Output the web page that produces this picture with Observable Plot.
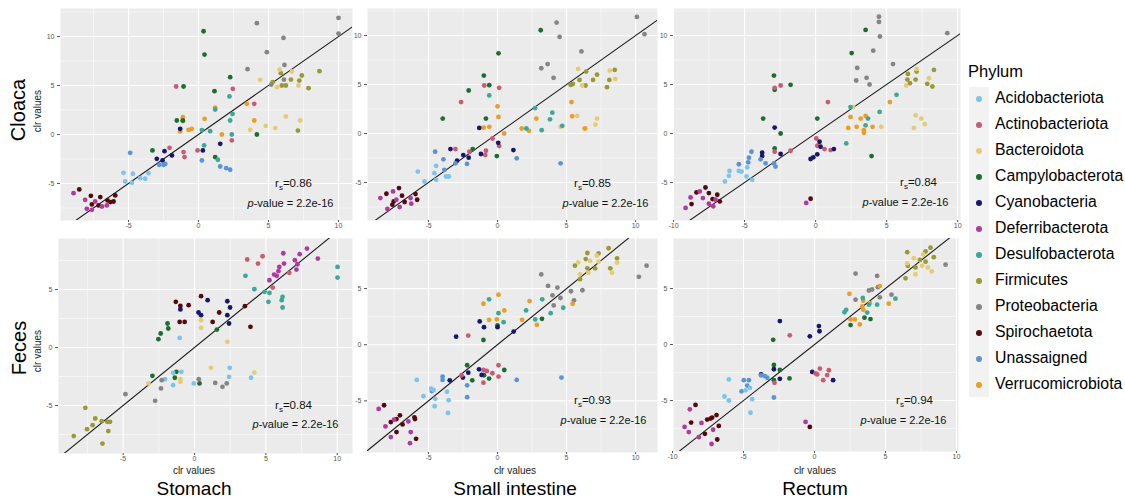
<!DOCTYPE html>
<html><head><meta charset="utf-8">
<script src="https://cdn.jsdelivr.net/npm/d3@7"></script>
<script src="https://cdn.jsdelivr.net/npm/@observablehq/plot@0.6"></script>
<style>
html,body{margin:0;padding:0;background:#fff;}
#root{position:relative;width:1125px;height:501px;overflow:hidden;font-family:"Liberation Sans",Arial,sans-serif;}
.lab{position:absolute;white-space:nowrap;transform:translate(-50%,-50%);color:#000;line-height:1.05;}
.vert{transform:translate(-50%,-50%) rotate(-90deg);}
.panel{position:absolute;}
</style></head><body><div id="root"></div>
<script>
const phyla = ["Acidobacteriota","Actinobacteriota","Bacteroidota","Campylobacterota","Cyanobacteria","Deferribacterota","Desulfobacterota","Firmicutes","Proteobacteria","Spirochaetota","Unassaigned","Verrucomicrobiota"];
const phylumColors = ["#7cc4ec","#cc5a72","#e5cc73","#1a6e2e","#17176e","#b03a9d","#3ba898","#9a9a33","#858585","#520a0f","#5a94d6","#eb9e23"];
const rowNames = ["Cloaca","Feces"];
const colNames = ["Stomach","Small intestine","Rectum"];
const axisTitle = "clr values";
const xTicks4 = [-5,0,5,10];
const xTicks5 = [-10,-5,0,5,10];
const yTicksTop = [-5,0,5,10];
const yTicksBottom = [-5,0,5];
const rsValues = ["0.86","0.85","0.84","0.84","0.93","0.94"];
const pValueText = "2.2e-16";
const fitSlope = [1,1,1,1,1,1];
const fitIntercept = [0,0,0,0,0,0];

// groups: [phylum index, [[x, y], ...]]
const cloacaStomach = [
 [8,[[10.0,11.9],[10.0,10.3],[4.17,11.36],[6.07,9.86],[4.88,8.4],[6.14,7.1],[3.5,6.67],[6.1,5.6],[5.2,5.1]]],
 [7,[[8.64,6.46],[7.38,6.02],[7.2,5.5],[6.6,5.6],[5.88,6.26],[5.95,5.0],[6.24,5.0],[7.86,4.73],[7.1,0.4],[5.3,5.35]]],
 [2,[[5.79,6.63],[6.67,6.43],[4.4,5.58],[5.6,4.83],[7.14,5.0],[6.24,1.84],[7.26,1.43],[4.8,0.88],[5.48,0.65],[3.69,0.48]]],
 [11,[[3.45,3.13],[3.98,1.43],[1.67,0.0],[1.19,2.75],[0.43,1.6],[-1.12,1.77],[-1.12,1.36],[-1.31,0.31],[-0.71,0.48],[-0.48,0.58]]],
 [3,[[0.36,10.54],[0.43,8.16],[2.26,5.85],[-1.07,4.9],[1.14,4.42],[-1.55,1.43],[-1.12,1.43],[-3.29,-1.63],[1.19,-2.31],[4.17,0.0]]],
 [1,[[-1.6,4.9],[2.45,4.66],[3.98,3.13],[-2.07,-1.36],[-1.07,-1.8],[-1.0,-2.31],[-0.07,-1.63],[2.38,-0.61]]],
 [6,[[2.21,3.88],[2.43,2.1],[2.26,1.43],[2.38,0.0],[0.83,0.34],[0.24,0.45],[0.4,-1.12],[1.38,-2.58],[1.19,2.55]]],
 [4,[[-1.31,0.58],[1.55,-0.95],[0.31,-1.63],[-2.43,-1.7],[-2.98,-2.48],[-1.9,-2.14],[-2.57,-2.65]]],
 [10,[[-4.88,-1.87],[-2.81,-3.1],[-2.38,-3.0],[0.24,-2.65],[1.55,-3.27],[1.98,-3.44],[2.26,-3.6],[-2.5,-3.1]]],
 [0,[[-5.36,-3.91],[-4.69,-4.01],[-5.24,-4.8],[-4.76,-4.93],[-4.17,-4.46],[-3.81,-4.52],[-3.57,-3.95]]],
 [9,[[-8.52,-5.61],[-7.69,-6.26],[-7.02,-6.39],[-5.95,-6.22],[-6.07,-6.84],[-6.5,-6.73],[-7.62,-7.14],[-7.14,-7.24],[-6.3,-6.9]]],
 [5,[[-8.93,-5.99],[-8.1,-6.67],[-7.98,-7.59],[-7.38,-6.84],[-6.9,-7.35],[-6.55,-7.24],[-7.62,-7.69]]]
];
const cloacaSmall = [
 [8,[[10.1,11.9],[10.65,10.14],[4.28,11.32],[4.5,9.86],[6.08,8.38],[3.17,6.66],[3.63,7.09],[4.06,5.68],[5.36,5.0]]],
 [7,[[8.49,6.49],[8.1,5.47],[7.21,6.01],[6.92,5.47],[6.42,6.32],[5.94,5.47],[5.46,5.07],[6.37,4.9],[7.93,4.73],[5.29,4.97]]],
 [2,[[5.84,6.59],[8.13,6.42],[8.53,5.57],[6.13,4.9],[5.77,1.79],[7.21,1.52],[7.09,0.91],[4.57,0.68],[6.37,0.51]]],
 [11,[[5.36,3.21],[5.41,1.76],[6.32,0.51],[2.81,1.52],[1.75,0.51],[2.28,0.27],[0.0,2.77],[0.07,1.69],[-0.6,0.68],[-1.0,0.61],[0.48,0.0]]],
 [3,[[3.13,10.54],[0.07,8.18],[-0.99,5.91],[-0.6,4.93],[-2.09,4.39],[-3.97,1.52],[-0.84,1.52],[-0.05,-2.3],[-1.8,-1.59]]],
 [1,[[-2.64,3.21],[-0.96,4.9],[0.12,4.66],[-3.05,-1.59],[-0.36,-0.51],[0.12,-1.28],[-0.84,-1.76],[-0.89,-2.2],[-2.04,-1.86]]],
 [6,[[-0.6,3.89],[2.72,2.6],[3.97,2.13],[3.8,1.45],[4.69,0.78],[2.09,0.51],[3.2,0.34]]],
 [4,[[-1.32,0.57],[-3.41,-1.59],[0.05,-0.95],[1.15,-1.69],[-2.48,-2.2],[-2.09,-2.47],[-1.2,-2.09],[-2.93,-2.77]]],
 [10,[[-4.52,-1.86],[-3.92,-2.64],[-3.05,-3.04],[-2.21,-3.11],[1.39,-2.53],[4.57,-3.04],[-3.85,-3.72]]],
 [0,[[-5.77,-3.89],[-4.57,-4.05],[-5.29,-4.9],[-4.45,-4.73],[-3.73,-4.39],[-3.53,-4.39],[-4.45,-3.31]]],
 [9,[[-7.14,-5.57],[-8.05,-6.15],[-6.92,-6.35],[-5.94,-6.18],[-5.82,-6.76],[-7.52,-6.93],[-6.73,-6.99],[-7.62,-7.26]]],
 [5,[[-8.49,-6.59],[-7.57,-5.91],[-7.33,-6.76],[-6.3,-6.59],[-6.25,-7.16],[-7.98,-7.7],[-7.09,-7.5]]]
];
const cloacaRectum = [
 [8,[[4.46,11.93],[4.46,11.39],[4.53,9.9],[9.27,10.24],[4.06,8.45],[5.45,7.09],[2.93,6.69],[2.86,5.41],[3.59,5.68],[3.8,5.0]]],
 [3,[[3.52,10.57],[2.54,8.21],[-2.93,5.91],[-1.76,4.97],[-2.88,4.46],[-3.69,1.52],[0.12,1.52],[-2.46,0.0],[-2.88,-1.52],[3.94,-2.3]]],
 [1,[[-2.46,4.9],[-2.88,4.66],[0.87,3.21],[0.05,-0.51],[0.12,-1.25],[0.63,-1.59],[1.06,-1.69],[-2.88,-1.86],[-1.76,-1.76]]],
 [7,[[8.33,6.49],[6.5,6.08],[7.11,6.32],[7.04,5.51],[6.64,5.14],[7.86,5.07],[8.22,4.8],[6.46,5.51]]],
 [2,[[7.11,6.59],[7.98,5.64],[6.38,4.9],[7.04,1.86],[7.44,1.52],[7.68,0.95],[6.92,0.57],[2.65,2.7],[4.62,0.68]]],
 [11,[[5.23,3.21],[2.46,1.69],[2.3,0.57],[2.89,0.68],[3.17,1.52],[3.52,1.79],[3.4,0.34],[3.4,0.07],[4.01,0.68]]],
 [6,[[5.7,3.95],[4.51,2.2],[3.69,1.52],[3.52,0.84],[2.46,2.7],[2.16,-1.01]]],
 [4,[[-2.88,0.61],[0.28,-0.84],[0.35,-1.35],[0.12,-2.13],[-0.16,-2.43],[-0.35,-2.6],[1.29,-1.59],[-2.46,-2.09],[-3.76,-1.96],[-3.76,-2.3]]],
 [10,[[-4.51,-1.86],[-4.69,-2.47],[-4.74,-2.94],[-3.87,-2.64],[-3.52,-3.04],[-2.93,-3.04],[-2.82,-3.38],[-5.4,-3.14]]],
 [0,[[-6.06,-3.82],[-6.1,-4.32],[-6.38,-4.9],[-5.21,-3.89],[-4.86,-4.39],[-4.46,-4.73],[-4.81,-3.45],[-5.4,-3.82]]],
 [9,[[-7.75,-5.51],[-8.38,-6.01],[-7.51,-6.08],[-6.92,-6.25],[-6.74,-6.93],[-7.25,-6.69],[-8.73,-7.2],[-0.35,-6.66]]],
 [5,[[-9.15,-7.6],[-8.8,-6.52],[-8.15,-5.91],[-7.93,-6.59],[-7.51,-7.16],[-7.2,-7.43],[-7.04,-6.76],[-0.66,-7.09]]]
];
const fecesStomach = [
 [5,[[7.88,8.53],[6.22,8.13],[7.37,8.05],[7.03,7.53],[8.64,7.67],[7.21,7.18],[6.27,7.24],[5.94,6.95],[5.88,6.58],[5.58,6.29],[5.76,6.18],[5.25,5.8],[7.14,6.72]]],
 [1,[[3.69,7.59],[4.77,7.87],[4.45,7.24],[6.64,6.44],[5.48,5.17]]],
 [6,[[10.02,6.95],[10.02,6.03],[3.57,6.18],[4.19,5.03],[4.91,4.8],[5.25,4.71],[6.17,4.37],[6.11,4.08],[5.18,3.94],[6.17,3.45]]],
 [9,[[-1.31,3.94],[-0.99,3.59],[-0.41,3.65],[0.46,4.43],[1.73,3.02],[3.53,3.56],[3.92,1.78],[-1.04,2.21],[-0.69,2.21],[1.27,2.21]]],
 [4,[[-0.99,3.28],[0.28,3.02],[0.46,2.79],[0.92,4.08],[2.3,3.99],[2.49,3.45],[2.3,2.79],[2.42,2.07]]],
 [2,[[0.46,2.36],[0.46,1.7],[2.3,0.49],[1.15,-1.75],[4.19,-2.16],[-3.23,-3.1],[-0.99,-2.73],[-0.99,-2.96]]],
 [3,[[-1.89,2.07],[-1.84,1.64],[-2.37,1.21],[-2.53,0.72],[1.57,1.55],[-2.95,-2.44],[-1.27,-2.1],[-1.38,-2.61],[0.35,-3.1]]],
 [0,[[-1.04,0.83],[-0.92,-2.1],[-1.5,-2.18],[-2.07,-2.73],[-1.5,-3.25],[-0.05,-3.1],[2.47,-1.75],[2.42,-2.53],[3.96,-2.61]]],
 [8,[[-4.84,-4.02],[-2.76,-4.6],[-2.35,-3.53],[-2.3,-2.82],[0.3,-2.73],[1.45,-3.05],[1.96,-3.39],[2.26,-3.1]]],
 [7,[[-7.65,-5.2],[-8.46,-7.64],[-7.53,-7.04],[-7.14,-6.7],[-6.96,-6.12],[-6.5,-6.35],[-6.11,-6.41],[-5.92,-6.41],[-6.04,-7.21],[-6.45,-8.28]]]
];
const fecesSmall = [
 [7,[[8.05,8.59],[7.32,8.14],[6.51,8.17],[6.39,7.63],[8.66,7.69],[6.51,6.8],[7.07,6.8],[8.17,6.8],[5.98,5.84],[5.61,7.04]]],
 [2,[[7.2,7.93],[5.85,7.34],[6.71,7.46],[8.66,7.31],[5.98,6.26],[6.59,6.41],[8.29,6.41],[7.32,7.4]]],
 [8,[[10.8,7.04],[10.24,6.05],[3.17,6.26],[3.66,5.24],[4.34,5.09],[4.56,4.16],[5.32,4.76],[5.54,3.95],[6.15,4.85],[3.98,4.4],[4.07,3.5]]],
 [11,[[0.07,4.46],[-1.02,3.65],[0.49,3.05],[-0.05,2.25],[-0.61,2.22],[2.32,3.89],[1.78,2.22],[2.85,1.77],[5.44,3.65]]],
 [6,[[-0.61,4.04],[0.07,2.81],[0.44,2.01],[2.07,3.05],[3.24,4.04],[3.85,2.81],[4.76,3.29],[2.73,2.25]]],
 [3,[[-1.02,0.42],[3.22,2.31],[0.0,1.71],[-2.2,-1.83],[-1.83,-3.17],[-0.98,-2.72],[-0.61,-3.02],[0.49,-2.25]]],
 [4,[[-1.29,2.07],[-0.98,1.56],[0.0,1.56],[-3.0,0.72],[1.17,1.17],[-3.46,-3.17],[-2.51,-2.93],[-2.12,-2.49],[-1.34,-2.19],[-1.15,-2.69]]],
 [1,[[-2.12,0.81],[-1.02,-2.25],[-0.78,-2.34],[-0.37,-2.54],[0.07,-1.83],[0.07,-2.84],[-1.02,-3.38],[-2.61,-2.72]]],
 [10,[[-3.98,-2.84],[-3.98,-3.14],[-2.2,-3.62],[-2.2,-4.67],[1.39,-3.14],[4.63,-2.93],[-4.76,-4.13]]],
 [0,[[-5.85,-3.14],[-5.37,-4.58],[-4.8,-3.92],[-4.51,-4.82],[-4.56,-5.48],[-3.66,-4.19],[-3.54,-4.94],[-3.59,-6.08],[-4.63,-4.04]]],
 [9,[[-8.22,-5.39],[-7.73,-6.89],[-7.32,-6.62],[-7.07,-6.29],[-6.88,-7.1],[-7.32,-7.78],[-6.02,-6.47],[-5.98,-6.62],[-5.9,-8.38]]],
 [5,[[-8.61,-5.72],[-8.12,-7.28],[-7.73,-8.23],[-6.46,-6.83],[-6.29,-7.78],[-6.34,-8.77],[-7.49,-6.68]]]
];
const fecesRectum = [
 [7,[[6.53,8.24],[8.17,8.64],[7.82,8.3],[8.4,7.79],[7.11,6.88],[6.57,7.03],[6.41,5.91],[7.42,7.55],[7.82,7.39]]],
 [2,[[7.0,7.7],[6.53,7.24],[7.65,8.03],[7.58,7.03],[7.98,6.88],[8.26,6.52],[7.11,6.27]]],
 [8,[[9.23,7.12],[2.89,6.33],[4.41,6.12],[3.83,4.82],[4.06,4.91],[4.46,5.12],[5.42,4.45],[2.89,4.0],[4.6,4.21]]],
 [11,[[2.46,4.52],[3.43,3.91],[3.36,3.39],[3.9,3.7],[4.6,5.21],[5.23,3.64],[2.54,2.24],[2.84,2.24],[3.19,1.79],[3.43,3.09]]],
 [6,[[3.4,4.15],[4.41,3.55],[5.7,4.09],[2.23,3.09],[2.11,2.88],[3.71,2.85],[3.83,3.55]]],
 [3,[[2.54,1.73],[3.52,2.39],[3.94,2.27],[-2.91,0.42],[-2.86,-1.82],[-2.44,-2.27],[-1.76,-3.03],[-2.86,-3.18]]],
 [4,[[-2.44,2.09],[0.31,1.64],[0.35,1.18],[-0.33,0.73],[-2.86,-2.21],[-2.44,-3.06],[-3.76,-2.67],[-0.16,-2.45],[1.31,-3.18]]],
 [1,[[-1.74,0.82],[0.19,-2.67],[0.38,-2.15],[0.61,-3.18],[1.01,-2.3],[0.89,-2.73],[0.07,-2.58],[-2.82,-3.42]]],
 [10,[[-3.76,-2.76],[-3.5,-2.82],[-3.33,-2.97],[-4.98,-3.18],[-4.62,-3.18],[-4.74,-3.67],[-5.14,-4.18],[-2.86,-4.73]]],
 [0,[[-6.03,-3.12],[-6.34,-4.64],[-6.03,-5.0],[-4.86,-4.09],[-4.39,-4.88],[-4.51,-6.09],[-4.55,-3.88]]],
 [9,[[-8.38,-5.39],[-8.69,-6.97],[-7.56,-6.7],[-7.32,-6.61],[-7.21,-6.52],[-6.9,-6.3],[-6.74,-7.27],[-7.72,-7.97],[-6.85,-8.48],[-0.33,-7.36]]],
 [5,[[-8.78,-5.79],[-9.15,-7.36],[-8.85,-7.82],[-8.15,-8.27],[-7.96,-7.0],[-7.14,-7.61],[-7.25,-8.88],[-0.63,-6.91]]]
];

const panelData = [cloacaStomach, cloacaSmall, cloacaRectum, fecesStomach, fecesSmall, fecesRectum];

// layout (pixel frames, axis domains, annotation offsets)
const layout = [
 {left:60, top:8, w:292, h:212, xd:[-9.86,11.0], yd:[-8.78,12.86], xt:xTicks4, yt:yTicksTop, r:[-59,-37], p:[-62,-17]},
 {left:367, top:8, w:290, h:212, xd:[-9.42,11.59], yd:[-8.88,12.76], xt:xTicks4, yt:yTicksTop, r:[-65,-37], p:[-52,-17]},
 {left:673, top:8, w:287, h:212, xd:[-10.0,10.2], yd:[-8.88,12.76], xt:xTicks5, yt:yTicksTop, r:[-42,-38], p:[-55,-18]},
 {left:58, top:238, w:294, h:215, xd:[-9.53,11.07], yd:[-9.14,9.4], xt:xTicks4, yt:yTicksBottom, r:[-59,-48], p:[-57,-29]},
 {left:367, top:238, w:290, h:214, xd:[-9.42,11.59], yd:[-9.6,9.46], xt:xTicks4, yt:yTicksBottom, r:[-65,-52], p:[-54,-32]},
 {left:673, top:238, w:285, h:213, xd:[-9.93,10.14], yd:[-9.55,9.46], xt:xTicks5, yt:yTicksBottom, r:[-44,-51], p:[-55,-31]}
];

const FONT = '"Liberation Sans", Arial, sans-serif';

function minorTicks(ticks, domain) {
  const step = ticks[1] - ticks[0];
  const out = [];
  for (let v = ticks[0] - 2.5 * step; v <= domain[1]; v += step) {
    if (v >= domain[0]) out.push(v);
  }
  return out;
}

const root = document.getElementById("root");

layout.forEach((L, i) => {
  const mL = 24, mR = 4, mT = 4, mB = 14;
  const pts = panelData[i].flatMap(([k, arr]) => arr.map(([x, y]) => ({phylum: phyla[k], x, y})));
  const s = fitSlope[i], b = fitIntercept[i];
  const fit = L.xd.map(x => ({x, y: s * x + b}));
  const axisStyle = {fontSize: 7, color: "#555", tickFormat: d => String(d), label: null};
  const chart = Plot.plot({
    width: L.w + mL + mR,
    height: L.h + mT + mB,
    marginLeft: mL, marginRight: mR, marginTop: mT, marginBottom: mB,
    x: {domain: L.xd},
    y: {domain: L.yd},
    color: {domain: phyla, range: phylumColors},
    style: {fontFamily: FONT, background: "transparent", overflow: "visible", maxWidth: "none"},
    marks: [
      Plot.frame({fill: "#ebebeb", stroke: null}),
      Plot.gridX(minorTicks(L.xt, L.xd), {stroke: "#fff", strokeOpacity: 1, strokeWidth: 0.5}),
      Plot.gridY(minorTicks(L.yt, L.yd), {stroke: "#fff", strokeOpacity: 1, strokeWidth: 0.5}),
      Plot.gridX(L.xt, {stroke: "#fff", strokeOpacity: 1, strokeWidth: 1.1}),
      Plot.gridY(L.yt, {stroke: "#fff", strokeOpacity: 1, strokeWidth: 1.1}),
      Plot.axisX(L.xt, {...axisStyle, tickSize: 2, tickPadding: 1}),
      Plot.axisY(L.yt, {...axisStyle, tickSize: 3, tickPadding: 3}),
      Plot.line(fit, {x: "x", y: "y", stroke: "#1e1e1e", strokeWidth: 1.1, clip: "frame"}),
      Plot.dot(pts, {x: "x", y: "y", fill: "phylum", r: 2.4}),
      Plot.text([`rs=${rsValues[i]}`], {frameAnchor: "bottom-right", dx: L.r[0], dy: L.r[1], text: d => d, textAnchor: "middle", lineAnchor: "middle", fontSize: 11.5, fill: "#111"}),
      Plot.text([`p-value = ${pValueText}`], {frameAnchor: "bottom-right", dx: L.p[0], dy: L.p[1], text: d => d, textAnchor: "middle", lineAnchor: "middle", fontSize: 11, fill: "#111"})
    ]
  });
  chart.classList.add("panel");
  chart.style.left = (L.left - mL) + "px";
  chart.style.top = (L.top - mT) + "px";
  // subscript and italic formatting
  d3.select(chart).selectAll("text").each(function() {
    const t = this.textContent;
    const sel = d3.select(this);
    if (t.startsWith("rs=")) {
      sel.text(null);
      sel.append("tspan").text("r");
      sel.append("tspan").attr("font-size", 8).attr("dy", 3).text("s");
      sel.append("tspan").attr("dy", -3).text(t.slice(2));
    } else if (t.startsWith("p-value")) {
      sel.text(null);
      sel.append("tspan").attr("font-style", "italic").text("p");
      sel.append("tspan").text(t.slice(1));
    }
  });
  root.appendChild(chart);
});

function addLabel(text, x, y, size, vertical, color) {
  const d = document.createElement("div");
  d.className = "lab" + (vertical ? " vert" : "");
  d.textContent = text;
  d.style.left = x + "px";
  d.style.top = y + "px";
  d.style.fontSize = size + "px";
  if (color) d.style.color = color;
  root.appendChild(d);
}

addLabel(rowNames[0], 18, 110, 20, true);
addLabel(axisTitle, 38, 111, 10, true, "#222");
addLabel(rowNames[1], 19, 348, 20, true);
addLabel(axisTitle, 38, 351, 10, true, "#222");
const colCenters = [194, 515, 815];
colNames.forEach((n, j) => {
  addLabel(axisTitle, colCenters[j], 471, 10, false, "#222");
  addLabel(n, colCenters[j], 489, 19, false);
});

// legend
const leg = d3.create("svg").attr("width", 160).attr("height", 360)
  .style("position", "absolute").style("left", "965px").style("top", "55px")
  .style("font-family", FONT);
leg.append("text").attr("x", 3).attr("y", 18).attr("dominant-baseline", "middle")
  .attr("font-size", 16.5).attr("fill", "#000").text("Phylum");
leg.append("rect").attr("x", 4).attr("y", 32).attr("width", 20).attr("height", 310).attr("fill", "#f2f2f2");
phyla.forEach((p, k) => {
  const y = 44 + k * 26;
  leg.append("circle").attr("cx", 14).attr("cy", y).attr("r", 3).attr("fill", phylumColors[k]);
  leg.append("text").attr("x", 30).attr("y", y).attr("dominant-baseline", "middle")
    .attr("font-size", 15.8).attr("fill", "#000").text(p);
});
root.appendChild(leg.node());
</script>
</body></html>
